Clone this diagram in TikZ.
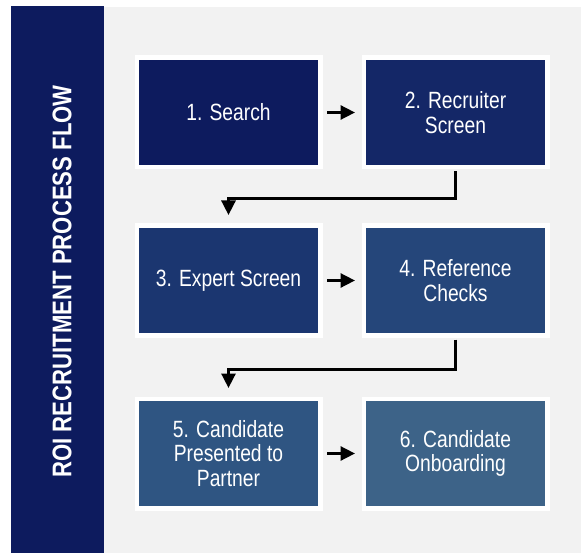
\documentclass[tikz,border=0pt]{standalone}
\usepackage{fontspec}
\setmainfont{Liberation Sans}[FakeStretch=0.82]
\usetikzlibrary{arrows.meta}
\definecolor{navy}{RGB}{13,27,94}
\definecolor{bgrey}{RGB}{242,242,242}
\definecolor{cA}{RGB}{13,27,94}
\definecolor{cB}{RGB}{20,39,103}
\definecolor{cC}{RGB}{27,54,112}
\definecolor{cD}{RGB}{37,70,122}
\definecolor{cE}{RGB}{47,85,130}
\definecolor{cF}{RGB}{61,99,136}
\tikzset{
  stepbox/.style={rectangle, draw=white, line width=4.5pt, minimum width=183.5pt, minimum height=109.5pt, inner sep=0pt, text=white, align=center, font=\fontsize{23.5pt}{24.5pt}\selectfont},
  flow/.style={line width=2.8pt, -{Triangle[length=14.5pt,width=14pt]}},
}
\begin{document}
\begin{tikzpicture}[x=1pt,y=-1pt]
\useasboundingbox (0,0) rectangle (583,553);
\fill[bgrey] (104,7) rectangle (581,553);
\fill[navy] (11,6) rectangle (104,553);
\node[rotate=90, text=white, font=\bfseries\fontsize{27pt}{29pt}\selectfont] (title) at (62,281.5) {ROI RECRUITMENT PROCESS FLOW};
\node[stepbox, fill=cA] (b1) at (228.5,112.5) {1. Search};
\node[stepbox, fill=cB] (b2) at (455.5,112.5) {2. Recruiter\\Screen};
\node[stepbox, fill=cC] (b3) at (228.5,280.5) {3. Expert Screen};
\node[stepbox, fill=cD] (b4) at (455.5,280.5) {4. Reference\\Checks};
\node[stepbox, fill=cE] (b5) at (228.5,453.5) {5. Candidate\\Presented to\\Partner};
\node[stepbox, fill=cF] (b6) at (455.5,453.5) {6. Candidate\\Onboarding};
\draw[flow, shorten <=4.5pt, shorten >=6.5pt] (b1.east) -- (b2.west);
\draw[flow, shorten <=4.5pt, shorten >=6.5pt] (b3.east) -- (b4.west);
\draw[flow, shorten <=4.5pt, shorten >=6.5pt] (b5.east) -- (b6.west);
\draw[flow, shorten <=2pt, shorten >=8.5pt] (b2.south) -- ++(0,29) -| (b3.north);
\draw[flow, shorten <=2pt, shorten >=8.5pt] (b4.south) -- ++(0,31.75) -| (b5.north);
\end{tikzpicture}
\end{document}
